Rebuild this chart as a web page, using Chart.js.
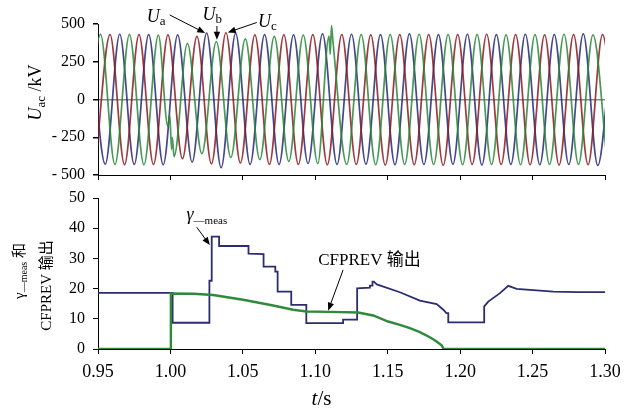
<!DOCTYPE html>
<html>
<head>
<meta charset="utf-8">
<script src="https://cdn.jsdelivr.net/npm/chart.js@4.4.1/dist/chart.umd.min.js"></script>
<style>
  html, body { margin: 0; padding: 0; background: #fff; }
  #wrap { position: relative; width: 628px; height: 410px; }
  #topChart { position: absolute; left: 0; top: 0; }
  #botChart { position: absolute; left: 0; top: 185px; }
</style>
</head>
<body>
<div id="wrap">
  <canvas id="topChart" width="628" height="185"></canvas>
  <canvas id="botChart" width="628" height="225"></canvas>
</div>
<script>
// tick labels
const xTicks = [0.95, 1.00, 1.05, 1.10, 1.15, 1.20, 1.25, 1.30];
const uTicks = [-500, -250, 0, 250, 500];
const gTicks = [0, 10, 20, 30, 40, 50];

// Ua (blue) - peaks / troughs, kV
const uaT = [0.945, 0.955, 0.965, 0.975, 0.985, 0.995, 1.005, 1.015, 1.025, 1.035, 1.045, 1.055, 1.065,
  1.075, 1.085, 1.095, 1.105, 1.115, 1.125, 1.135, 1.145, 1.155, 1.165, 1.175, 1.185, 1.195, 1.205,
  1.215, 1.225, 1.235, 1.245, 1.255, 1.265, 1.275, 1.285, 1.295, 1.305];
const uaV = [430, -428, 432, -430, 430, -432, 428, -415, 440, -452, 438, -430, 430,
  -430, 428, -424, 434, -430, 432, -428, 430, -432, 434, -430, 430, -428, 432,
  -434, 430, -430, 432, -432, 430, -430, 434, -436, 430];

// Ub (green)
const ubT = [0.9417, 0.9517, 0.9617, 0.9717, 0.9817, 0.9917, 0.9983, 0.9995, 1.0008, 1.0013, 1.0025,
  1.0117, 1.0217, 1.0317, 1.0417, 1.0517, 1.0617, 1.0717, 1.0817, 1.0917, 1.1017,
  1.1095, 1.1103, 1.1112, 1.1122, 1.1217, 1.1317, 1.1417, 1.1517, 1.1617, 1.1717, 1.1817,
  1.1917, 1.2017, 1.2117, 1.2217, 1.2317, 1.2417, 1.2517, 1.2617, 1.2717, 1.2817, 1.2917, 1.3017];
const ubV = [-430, 432, -430, 430, -432, 426, -180, -100, -330, -250, -378,
  371, -358, 384, -384, 402, -398, 418, -410, 426, -424,
  420, 300, 490, 385, -430, 430, -432, 430, -430, 432, -430,
  430, -432, 430, -430, 428, -432, 430, -430, 432, -430, 428, -432];

// Uc (red)
const ucT = [0.9483, 0.9583, 0.9683, 0.9783, 0.9883, 0.9983, 1.0083, 1.0183, 1.0283, 1.0383, 1.0483,
  1.0583, 1.0683, 1.0783, 1.0883, 1.0983, 1.1083, 1.1183, 1.1283, 1.1383, 1.1483, 1.1583,
  1.1683, 1.1783, 1.1883, 1.1983, 1.2083, 1.2183, 1.2283, 1.2383, 1.2483, 1.2583, 1.2683,
  1.2783, 1.2883, 1.2983, 1.3083];
const ucV = [-430, 430, -432, 430, -430, 428, -392, 418, -426, 442, -420,
  428, -430, 428, -430, 430, -432, 430, -430, 428, -434, 430,
  -432, 430, -436, 430, -430, 432, -430, 430, -432, 428, -434,
  430, -432, 430, -430];

// gamma_meas (blue, bottom)
const gammaT = [0.95, 1.0015, 1.0015, 1.0269, 1.0269, 1.0285, 1.0285, 1.0336, 1.0336, 1.0539, 1.0539,
  1.0643, 1.0643, 1.0724, 1.0724, 1.074, 1.074, 1.0834, 1.0834, 1.0938, 1.0938, 1.1192, 1.1192,
  1.1289, 1.1289, 1.1377, 1.1377, 1.1395, 1.1395, 1.1404, 1.1425, 1.1584, 1.1722, 1.1838, 1.1884,
  1.1905, 1.1918, 1.1918, 1.2166, 1.2166, 1.2194, 1.2275, 1.2332, 1.239, 1.2505, 1.2643, 1.2816, 1.30];
const gammaV = [18.6, 18.6, 8.7, 8.7, 22.6, 22.6, 37.2, 37.2, 34.1, 34.1, 31.6,
  31.4, 27.3, 27.3, 25.6, 25.6, 19.0, 19.0, 14.6, 14.6, 8.6, 8.6, 9.7,
  9.7, 20.1, 20.3, 21.0, 21.0, 22.3, 22.3, 21.4, 18.8, 16.0, 14.9, 13.0,
  11.9, 11.9, 8.8, 8.8, 14.1, 15.7, 18.5, 20.9, 19.9, 19.5, 19.0, 18.8, 18.8];

// CFPREV output (green, bottom)
const cfT = [0.95, 1.0003, 1.0003, 1.016, 1.0295, 1.0502, 1.0709, 1.0847, 1.094, 1.11, 1.1296,
  1.14, 1.1503, 1.1584, 1.1653, 1.1722, 1.1791, 1.1838, 1.1872, 1.1886, 1.30];
const cfV = [0, 0, 18.4, 18.3, 17.9, 16.3, 14.4, 13.0, 12.4, 12.3, 12.1,
  11.1, 9.1, 8.0, 6.9, 5.6, 3.9, 2.5, 1.2, 0, 0];

const zip = (ts, vs) => ts.map((t, i) => ({ x: t, y: vs[i] }));

const SERIF = '"Liberation Serif", "Noto Sans CJK SC", serif';
Chart.defaults.font.family = SERIF;
Chart.defaults.color = '#000';

function richText(ctx, parts, x, y, align, rot) {
  ctx.save();
  ctx.translate(x, y);
  ctx.rotate(rot || 0);
  ctx.textAlign = 'left';
  ctx.textBaseline = 'alphabetic';
  ctx.fillStyle = '#000';
  let total = 0;
  parts.forEach(p => { ctx.font = p.f; p.w = ctx.measureText(p.t).width; total += p.w; });
  let cx = align === 'center' ? -total / 2 : 0;
  parts.forEach(p => { ctx.font = p.f; ctx.fillText(p.t, cx, p.dy || 0); cx += p.w; });
  ctx.restore();
}

function arrow(ctx, x1, y1, x2, y2) {
  const a = Math.atan2(y2 - y1, x2 - x1);
  const len = 8, hw = 3.2;
  ctx.save();
  ctx.strokeStyle = '#000';
  ctx.fillStyle = '#000';
  ctx.lineWidth = 1;
  ctx.beginPath();
  ctx.moveTo(x1, y1);
  ctx.lineTo(x2 - Math.cos(a) * len * 0.8, y2 - Math.sin(a) * len * 0.8);
  ctx.stroke();
  ctx.beginPath();
  ctx.moveTo(x2, y2);
  ctx.lineTo(x2 - Math.cos(a) * len - Math.sin(a) * hw, y2 - Math.sin(a) * len + Math.cos(a) * hw);
  ctx.lineTo(x2 - Math.cos(a) * len + Math.sin(a) * hw, y2 - Math.sin(a) * len - Math.cos(a) * hw);
  ctx.closePath();
  ctx.fill();
  ctx.restore();
}

function pt(chart, t, v) {
  return [chart.scales.x.getPixelForValue(t), chart.scales.y.getPixelForValue(v)];
}

const fixedTicks = list => scale => { scale.ticks = list.map(v => ({ value: v })); };

// y axis: fixed width, no extra label overflow padding
const fitY = s => { s.width = 98; s.paddingTop = 0; s.paddingBottom = 0; };

// top panel annotations
const topNotes = {
  id: 'topNotes',
  afterDraw(chart) {
    const ctx = chart.ctx;
    const U = 'italic 18px ' + SERIF, sub = '13px ' + SERIF;
    const labels = [
      { s: 'a', at: [0.9836, 516], from: [0.9995, 560], to: [1.0240, 440] },
      { s: 'b', at: [1.0221, 526], from: [1.0321, 487], to: [1.0321, 395] },
      { s: 'c', at: [1.0605, 482], from: [1.0596, 510], to: [1.0396, 444] }
    ];
    labels.forEach(l => {
      const [lx, ly] = pt(chart, l.at[0], l.at[1]);
      richText(ctx, [{ t: 'U', f: U }, { t: l.s, f: sub, dy: 3 }], lx, ly, 'left');
      const [fx, fy] = pt(chart, l.from[0], l.from[1]);
      const [tx, ty] = pt(chart, l.to[0], l.to[1]);
      arrow(ctx, fx, fy, tx, ty);
    });
    // y title
    const area = chart.chartArea;
    richText(ctx, [
      { t: 'U', f: 'italic 18px ' + SERIF },
      { t: 'ac', f: '13px ' + SERIF, dy: 4 },
      { t: ' /kV', f: '18px ' + SERIF }
    ], 41, (area.top + area.bottom) / 2 - 7, 'center', -Math.PI / 2);
  }
};

const botNotes = {
  id: 'botNotes',
  afterDraw(chart) {
    const ctx = chart.ctx;
    let [lx, ly] = pt(chart, 1.0111, 42.6);
    richText(ctx, [
      { t: 'γ', f: 'italic 18px ' + SERIF },
      { t: '—meas', f: '11px ' + SERIF, dy: 4 }
    ], lx, ly, 'left');
    let [fx, fy] = pt(chart, 1.0182, 40.3);
    let [tx, ty] = pt(chart, 1.0272, 34.4);
    arrow(ctx, fx, fy, tx, ty);

    [lx, ly] = pt(chart, 1.102, 27.8);
    richText(ctx, [{ t: 'CFPREV 输出', f: '17px ' + SERIF }], lx, ly, 'left');
    [fx, fy] = pt(chart, 1.1192, 26.2);
    [tx, ty] = pt(chart, 1.1089, 12.7);
    arrow(ctx, fx, fy, tx, ty);

    // y title, two lines
    const area = chart.chartArea;
    const midY = (area.top + area.bottom) / 2;
    richText(ctx, [
      { t: 'γ', f: '15px ' + SERIF },
      { t: '—meas', f: '10px ' + SERIF, dy: 3 },
      { t: ' 和', f: '15px ' + SERIF }
    ], 23.5, midY - 2.5, 'center', -Math.PI / 2);
    richText(ctx, [{ t: 'CFPREV 输出', f: '15px ' + SERIF }], 51, midY + 12, 'center', -Math.PI / 2);

    // x title
    richText(ctx, [
      { t: 't', f: 'italic 21px ' + SERIF },
      { t: '/s', f: '21px ' + SERIF }
    ], (area.left + area.right) / 2 - 30, 220, 'center');
  }
};

const xAxis = (showLabels, h) => ({
  type: 'linear',
  min: 0.95,
  max: 1.30,
  afterBuildTicks: fixedTicks(xTicks),
  afterFit: s => { s.height = h; },
  border: { display: true, color: '#000', width: 1 },
  grid: { drawOnChartArea: false, drawTicks: true, tickLength: 5, tickColor: '#000' },
  ticks: {
    padding: 7,
    autoSkip: false,
    maxRotation: 0,
    font: { size: 18 },
    callback: v => showLabels ? v.toFixed(2) : ''
  }
});

new Chart(document.getElementById('topChart'), {
  type: 'line',
  data: {
    datasets: [
      { data: zip(ubT, ubV), borderColor: 'rgba(40,135,55,0.85)', borderWidth: 1.7 },
      { data: zip(ucT, ucV), borderColor: 'rgba(140,25,30,0.85)', borderWidth: 1.7 },
      { data: zip(uaT, uaV), borderColor: 'rgba(35,40,120,0.85)', borderWidth: 1.7 }
    ]
  },
  options: {
    responsive: false,
    devicePixelRatio: 1,
    animation: false,
    layout: { padding: { left: 0, right: 23, top: 24, bottom: 0 } },
    elements: {
      point: { radius: 0 },
      line: { cubicInterpolationMode: 'monotone', fill: false }
    },
    plugins: { legend: { display: false }, tooltip: { enabled: false } },
    scales: {
      x: xAxis(false, 10),
      y: {
        min: -500,
        max: 500,
        afterBuildTicks: fixedTicks(uTicks),
        afterFit: fitY,
        border: { display: true, color: '#000', width: 1 },
        grid: {
          drawOnChartArea: true,
          drawTicks: true,
          tickLength: 5,
          tickColor: '#000',
          lineWidth: 1.5,
          color: c => (c.tick && c.tick.value === 0) ? '#888' : 'rgba(0,0,0,0)'
        },
        ticks: {
          padding: 8,
          font: { size: 16 },
          callback: v => v < 0 ? '- ' + (-v) : String(v)
        }
      }
    }
  },
  plugins: [topNotes]
});

new Chart(document.getElementById('botChart'), {
  type: 'line',
  data: {
    datasets: [
      { data: zip(cfT, cfV), borderColor: '#2f8a3c', borderWidth: 2.4 },
      { data: zip(gammaT, gammaV), borderColor: '#2b2d70', borderWidth: 1.8 }
    ]
  },
  options: {
    responsive: false,
    devicePixelRatio: 1,
    animation: false,
    layout: { padding: { left: 0, right: 23, top: 13, bottom: 0 } },
    elements: {
      point: { radius: 0 },
      line: { tension: 0, fill: false }
    },
    plugins: { legend: { display: false }, tooltip: { enabled: false } },
    scales: {
      x: xAxis(true, 61),
      y: {
        min: 0,
        max: 50,
        afterBuildTicks: fixedTicks(gTicks),
        afterFit: fitY,
        border: { display: true, color: '#000', width: 1 },
        grid: { drawOnChartArea: false, drawTicks: true, tickLength: 5, tickColor: '#000' },
        ticks: { padding: 8, font: { size: 16 } }
      }
    }
  },
  plugins: [botNotes]
});
</script>
</body>
</html>
